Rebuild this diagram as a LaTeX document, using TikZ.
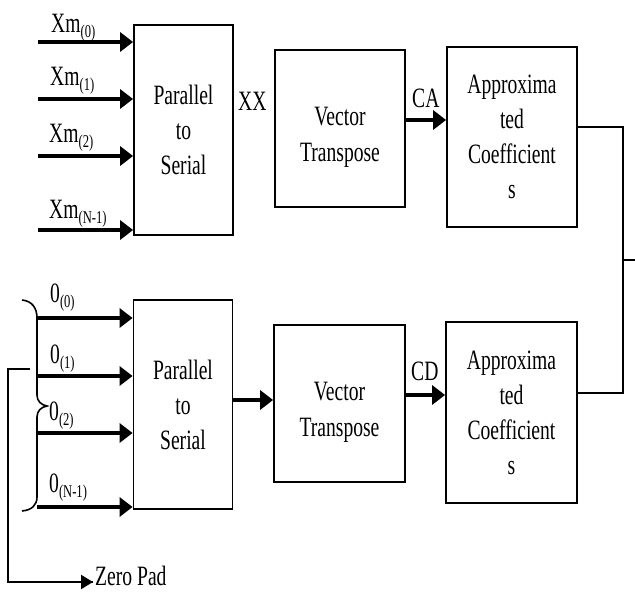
\documentclass[tikz,border=0pt]{standalone}
\usepackage{fontspec}
\setmainfont{Liberation Serif}[FakeStretch=0.7]
\usetikzlibrary{arrows.meta}
\newcommand\sbs[1]{\raisebox{-5pt}{\fontsize{18}{18}\selectfont #1}}
\begin{document}
\begin{tikzpicture}[x=1pt,y=-1pt,
  box/.style={draw, line width=1.8pt, inner sep=0pt, align=center,
    font=\fontsize{28}{35}\selectfont},
  txt/.style={inner sep=0pt, align=center, font=\fontsize{28}{36}\selectfont},
  arr/.style={line width=3.4pt, -{Triangle[length=13pt,width=19pt]}},
  wire/.style={line width=2.4pt},
  lbl/.style={inner sep=0pt, anchor=base west, font=\fontsize{28}{30}\selectfont}]
\useasboundingbox (0,0) rectangle (635,592);
% top row
\node[box, minimum width=99pt, minimum height=210pt] (ps1) at (183.5,130) {Parallel\\to\\Serial};
\node[box, minimum width=130pt, minimum height=157pt] (vt1) at (340,128.5) {};
\node[txt] (vt1t) at ([yshift=-9pt]vt1.center) {Vector\\Transpose};
\node[box, minimum width=130pt, minimum height=180pt] (ac1) at (512,137) {Approxima\\ted\\Coefficient\\s};
% bottom row
\node[box, minimum width=99pt, minimum height=209pt] (ps2) at (183,404.5) {Parallel\\to\\Serial};
\node[box, minimum width=131pt, minimum height=157pt] (vt2) at (339.5,403.5) {};
\node[txt] (vt2t) at ([yshift=-9pt]vt2.center) {Vector\\Transpose};
\node[box, minimum width=131pt, minimum height=181pt] (ac2) at (511.5,412.5) {Approxima\\ted\\Coefficient\\s};
% top inputs
\coordinate (a0) at (38,42); \coordinate (a1) at (38,99);
\coordinate (a2) at (38,156); \coordinate (a3) at (38,230);
\foreach \c in {a0,a1,a2,a3} \draw[arr] (\c) -- (\c -| ps1.west);
\node[lbl] (l0) at (51,32) {Xm\sbs{(0)}};
\node[lbl] (l1) at (50,85) {Xm\sbs{(1)}};
\node[lbl] (l2) at (49,142) {Xm\sbs{(2)}};
\node[lbl] (l3) at (49,218) {Xm\sbs{(N-1)}};
\node[lbl] (xx) at (238,110) {XX};
% CA arrow
\coordinate (ca) at (405,120);
\draw[arr] (ca) -- (ca -| ac1.west);
\node[lbl] (cal) at (412,107) {CA};
% bottom inputs
\coordinate (b0) at (37,318); \coordinate (b1) at (37,376);
\coordinate (b2) at (37,433); \coordinate (b3) at (37,507);
\foreach \c in {b0,b1,b2,b3} \draw[arr] (\c) -- (\c -| ps2.west);
\node[lbl] (m0) at (50,302) {0\sbs{(0)}};
\node[lbl] (m1) at (50,363) {0\sbs{(1)}};
\node[lbl] (m2) at (49,420) {0\sbs{(2)}};
\node[lbl] (m3) at (49,492) {0\sbs{(N-1)}};
% brace
\draw[line width=1.6pt] (22,300) .. controls (32,301) and (37,308) .. (37,318)
  -- (37,395) .. controls (37,401) and (41,405) .. (47,406)
  .. controls (41,407) and (37,411) .. (37,417)
  -- (37,497) .. controls (37,505) and (32,510) .. (22,511);
% zero pad
\coordinate (z0) at (30,369); \coordinate (z1) at (8,369);
\coordinate (z2) at (8,582); \coordinate (z3) at (93,582);
\draw[line width=2.2pt] (z0) -- (z1) -- (z2) -- (z3);
\draw[line width=2.2pt, -{Triangle[length=12pt,width=14pt]}] (70,582) -- (z3);
\node[lbl] (zp) at (95,585) {Zero Pad};
% bottom arrows
\coordinate (pv) at (233,400);
\draw[arr] (pv) -- (pv -| vt2.west);
\coordinate (cd) at (405,395);
\draw[arr] (cd) -- (cd -| ac2.west);
\node[lbl] (cdl) at (411,380) {CD};
% right combine
\coordinate (r1) at (623,127); \coordinate (r2) at (623,393);
\coordinate (r3) at (640,260); \coordinate (rm) at (623,260);
\draw[wire] (ac1.east |- r1) -- (r1) -- (r2) -- (ac2.east |- r2);
\draw[wire] (rm) -- (r3);
\end{tikzpicture}
\end{document}
